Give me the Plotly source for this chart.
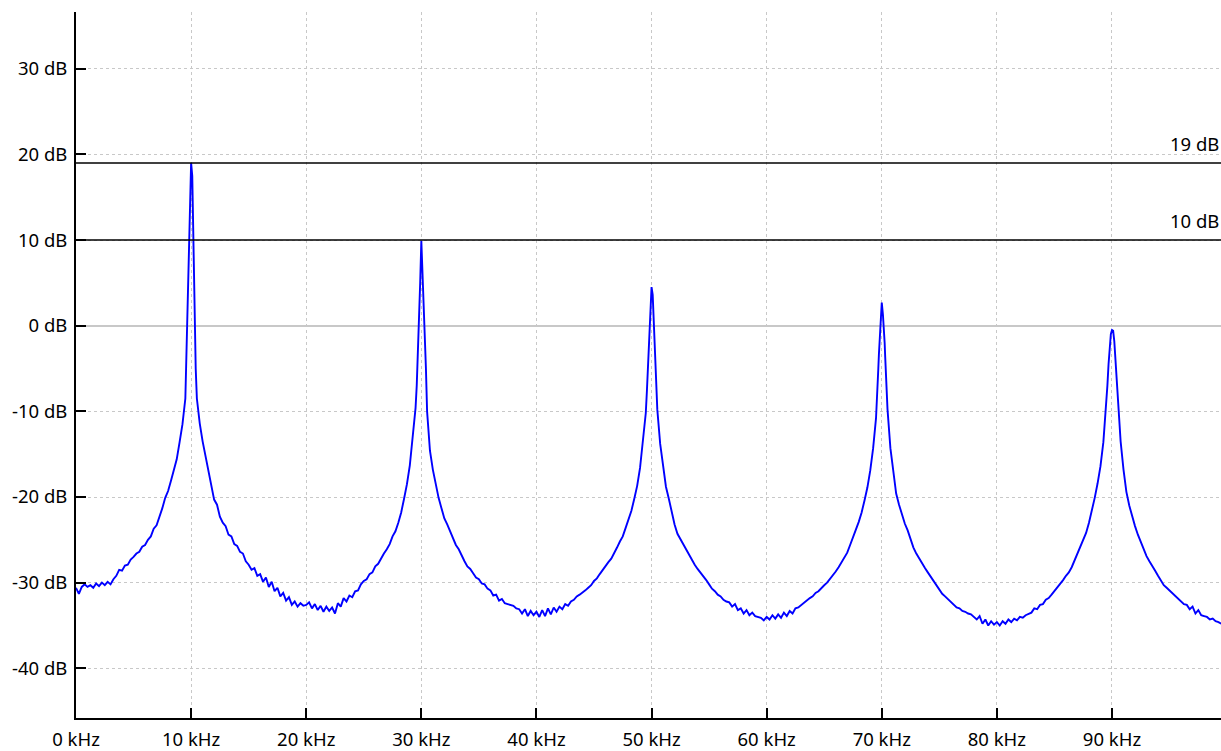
import plotly.graph_objects as go

# Spectrum sampled on a 0.25 kHz grid (0 .. 99.5 kHz), levels in dB
bin_step_khz = 0.25
level_db = [
    -30.6, -31.3, -30.5, -30.2, -30.5, -30.3, -30.6, -30.1, -30.4, -30.0, -30.3, -29.9, -30.2, -29.6, -29.2, -28.5, -28.6, -28.0, -27.9, -27.3,
    -27.0, -26.6, -26.4, -25.8, -25.6, -25.0, -24.6, -23.7, -23.3, -22.4, -21.3, -20.1, -19.3, -18.1, -17.0, -15.6, -13.6, -11.5, -8.5, 7.0,
    19.0, 5.0, -8.5, -11.4, -13.5, -15.2, -17.3, -18.9, -20.3, -20.9, -22.3, -23.0, -23.4, -24.4, -24.6, -25.5, -25.7, -26.4, -26.6, -27.5,
    -27.9, -28.5, -28.3, -29.2, -29.0, -29.9, -29.4, -30.5, -29.9, -31.0, -30.6, -31.6, -31.2, -32.1, -31.7, -32.6, -32.2, -32.8, -32.4, -32.7,
    -32.6, -32.3, -33.0, -32.5, -33.2, -32.7, -33.4, -32.8, -33.3, -32.9, -33.6, -32.4, -32.8, -31.8, -32.2, -31.5, -31.7, -31.0, -30.9, -30.2,
    -29.8, -29.6, -29.0, -28.8, -28.1, -27.8, -27.1, -26.6, -26.1, -25.5, -24.6, -24.0, -23.0, -21.8, -20.2, -18.5, -16.3, -13.2, -9.6, -1.8,
    9.9, 1.6, -10.0, -14.6, -16.8, -18.6, -20.1, -21.3, -22.5, -23.2, -24.0, -24.7, -25.6, -26.1, -26.9, -27.5, -28.1, -28.4, -28.9, -29.4,
    -29.6, -30.1, -30.2, -30.7, -30.9, -31.5, -31.4, -32.1, -31.9, -32.4, -32.5, -32.6, -32.7, -33.0, -33.1, -33.6, -33.1, -33.9, -33.3, -33.8,
    -33.4, -34.0, -33.2, -33.9, -33.0, -33.7, -32.9, -33.4, -32.8, -33.1, -32.5, -32.7, -32.2, -32.0, -31.6, -31.4, -31.2, -30.9, -30.6, -30.3,
    -29.8, -29.5, -29.0, -28.5, -28.1, -27.6, -27.2, -26.6, -25.9, -25.2, -24.6, -23.6, -22.6, -21.6, -20.2, -18.7, -16.6, -13.6, -10.2, -3.0,
    4.5, -1.8, -9.8, -13.8, -16.3, -18.8, -20.2, -21.9, -23.2, -24.3, -24.9, -25.6, -26.2, -26.8, -27.4, -27.9, -28.4, -28.8, -29.2, -29.7,
    -30.2, -30.7, -31.0, -31.4, -31.6, -32.0, -32.2, -32.3, -32.8, -32.5, -33.2, -33.0, -33.6, -33.2, -33.8, -33.5, -33.9, -34.0, -34.1, -34.4,
    -34.0, -34.3, -33.8, -34.2, -33.7, -34.1, -33.5, -33.9, -33.3, -33.6, -33.0, -32.9, -32.6, -32.4, -32.1, -31.8, -31.6, -31.2, -31.0, -30.6,
    -30.3, -30.0, -29.6, -29.1, -28.7, -28.2, -27.6, -27.1, -26.5, -25.6, -24.8, -23.8, -22.9, -21.8, -20.4, -18.9, -16.9, -14.3, -10.8, -3.4,
    2.7, -2.0, -9.8, -14.3, -16.8, -19.6, -20.9, -22.1, -23.1, -23.9, -25.0, -25.9, -26.6, -27.2, -27.8, -28.3, -28.8, -29.3, -29.9, -30.4,
    -30.9, -31.3, -31.6, -31.9, -32.3, -32.6, -32.9, -33.0, -33.3, -33.4, -33.6, -33.7, -34.0, -34.3, -33.9, -34.8, -34.3, -35.0, -34.5, -34.9,
    -34.6, -35.0, -34.5, -34.8, -34.3, -34.6, -34.2, -34.4, -34.0, -34.1, -33.8, -33.6, -33.5, -33.0, -33.1, -32.6, -32.5, -32.0, -31.8, -31.4,
    -31.0, -30.6, -30.2, -29.7, -29.2, -28.8, -28.2, -27.4, -26.7, -25.9, -25.2, -24.2, -23.0, -21.6, -20.1, -18.4, -16.4, -13.6, -9.5, -3.5,
    -0.5, -2.8, -8.0, -13.5, -16.8, -19.4, -21.0, -22.3, -23.4, -24.4, -25.3, -26.1, -26.9, -27.5, -28.0, -28.6, -29.2, -29.7, -30.3, -30.6,
    -30.9, -31.2, -31.5, -31.8, -32.1, -32.5, -32.6, -33.1, -32.8, -33.6, -33.2, -33.8, -33.9, -34.0, -34.3, -34.2, -34.5, -34.6, -34.8,
]
freq_khz = [i * bin_step_khz for i in range(len(level_db))]

# Extra fine-resolution samples around the harmonic peaks
peak_freq_khz = [
    9.6, 9.7, 9.8, 9.9, 10.1, 10.2, 10.3, 10.4,
    29.6, 29.7, 29.8, 29.9, 30.1, 30.2, 30.3, 30.4,
    49.6, 49.7, 49.8, 49.9, 50.1, 50.2, 50.3, 50.4,
    69.6, 69.7, 69.8, 69.9, 70.1, 70.2, 70.3, 70.4,
    89.6, 89.7, 89.8, 89.9, 90.1, 90.2, 90.3, 90.4,
]
peak_level_db = [
    -3.0, 3.5, 10.5, 14.5, 17.5, 10.0, -0.5, -5.0,
    -7.0, -3.5, 0.0, 5.0, 6.5, 3.2, 0.0, -5.0,
    -7.5, -4.5, -1.5, 1.0, 3.6, 0.0, -3.8, -7.0,
    -8.5, -5.0, -2.0, 0.0, 1.3, -0.3, -3.7, -7.0,
    -7.0, -4.5, -2.5, -1.0, -0.6, -1.8, -3.6, -5.6,
]

# Reference levels
ref_levels_db = [19, 10]
ref_labels = ["19 dB", "10 dB"]

x_tick_vals = [0, 10, 20, 30, 40, 50, 60, 70, 80, 90]
x_tick_text = ["0 kHz", "10 kHz", "20 kHz", "30 kHz", "40 kHz", "50 kHz", "60 kHz", "70 kHz", "80 kHz", "90 kHz"]
y_tick_vals = [-40, -30, -20, -10, 0, 10, 20, 30]
y_tick_text = ["-40 dB", "-30 dB", "-20 dB", "-10 dB", "0 dB", "10 dB", "20 dB", "30 dB"]

pts = sorted(zip(freq_khz + peak_freq_khz, level_db + peak_level_db))
xs = [p[0] for p in pts]
ys = [p[1] for p in pts]

FONT = "Noto Sans, DejaVu Sans, sans-serif"
FSIZE = 18.5

fig = go.Figure()
fig.add_trace(go.Scatter(x=xs, y=ys, mode="lines",
                         line=dict(color="#0000ff", width=1.9),
                         hoverinfo="skip", showlegend=False))

for lvl, lab in zip(ref_levels_db, ref_labels):
    fig.add_shape(type="line", xref="paper", x0=0, x1=1, yref="y", y0=lvl, y1=lvl,
                  line=dict(color="black", width=1.6), layer="above")
    fig.add_annotation(xref="paper", x=1, xanchor="right", xshift=0,
                       yref="y", y=lvl, yanchor="bottom", yshift=5,
                       text=lab, showarrow=False,
                       font=dict(family=FONT, size=FSIZE, color="black"))

fig.update_layout(
    width=1221, height=751,
    margin=dict(l=76, r=0, t=12, b=29, pad=0),
    paper_bgcolor="white", plot_bgcolor="white",
    font=dict(family=FONT, size=FSIZE, color="black"),
    showlegend=False,
)
fig.update_xaxes(
    range=[0, 99.47], tickmode="array", tickvals=x_tick_vals, ticktext=x_tick_text,
    tickfont=dict(family=FONT, size=FSIZE, color="black"),
    showgrid=True, gridcolor="#c8c8c8", gridwidth=1, griddash="3px,3px",
    zeroline=False, showline=True, linecolor="black", linewidth=2,
    ticks="inside", ticklen=10, tickwidth=2, tickcolor="black",
    ticklabelstandoff=4, fixedrange=True,
)
fig.update_yaxes(
    range=[-45.8, 36.62], tickmode="array", tickvals=y_tick_vals, ticktext=y_tick_text,
    tickfont=dict(family=FONT, size=FSIZE, color="black"),
    showgrid=True, gridcolor="#c8c8c8", gridwidth=1, griddash="3px,3px",
    zeroline=True, zerolinecolor="#c8c8c8", zerolinewidth=1.5,
    showline=True, linecolor="black", linewidth=2,
    ticks="inside", ticklen=10, tickwidth=2, tickcolor="black",
    ticklabelstandoff=3, fixedrange=True,
)

fig.write_html("out.html", config={"displayModeBar": False})
